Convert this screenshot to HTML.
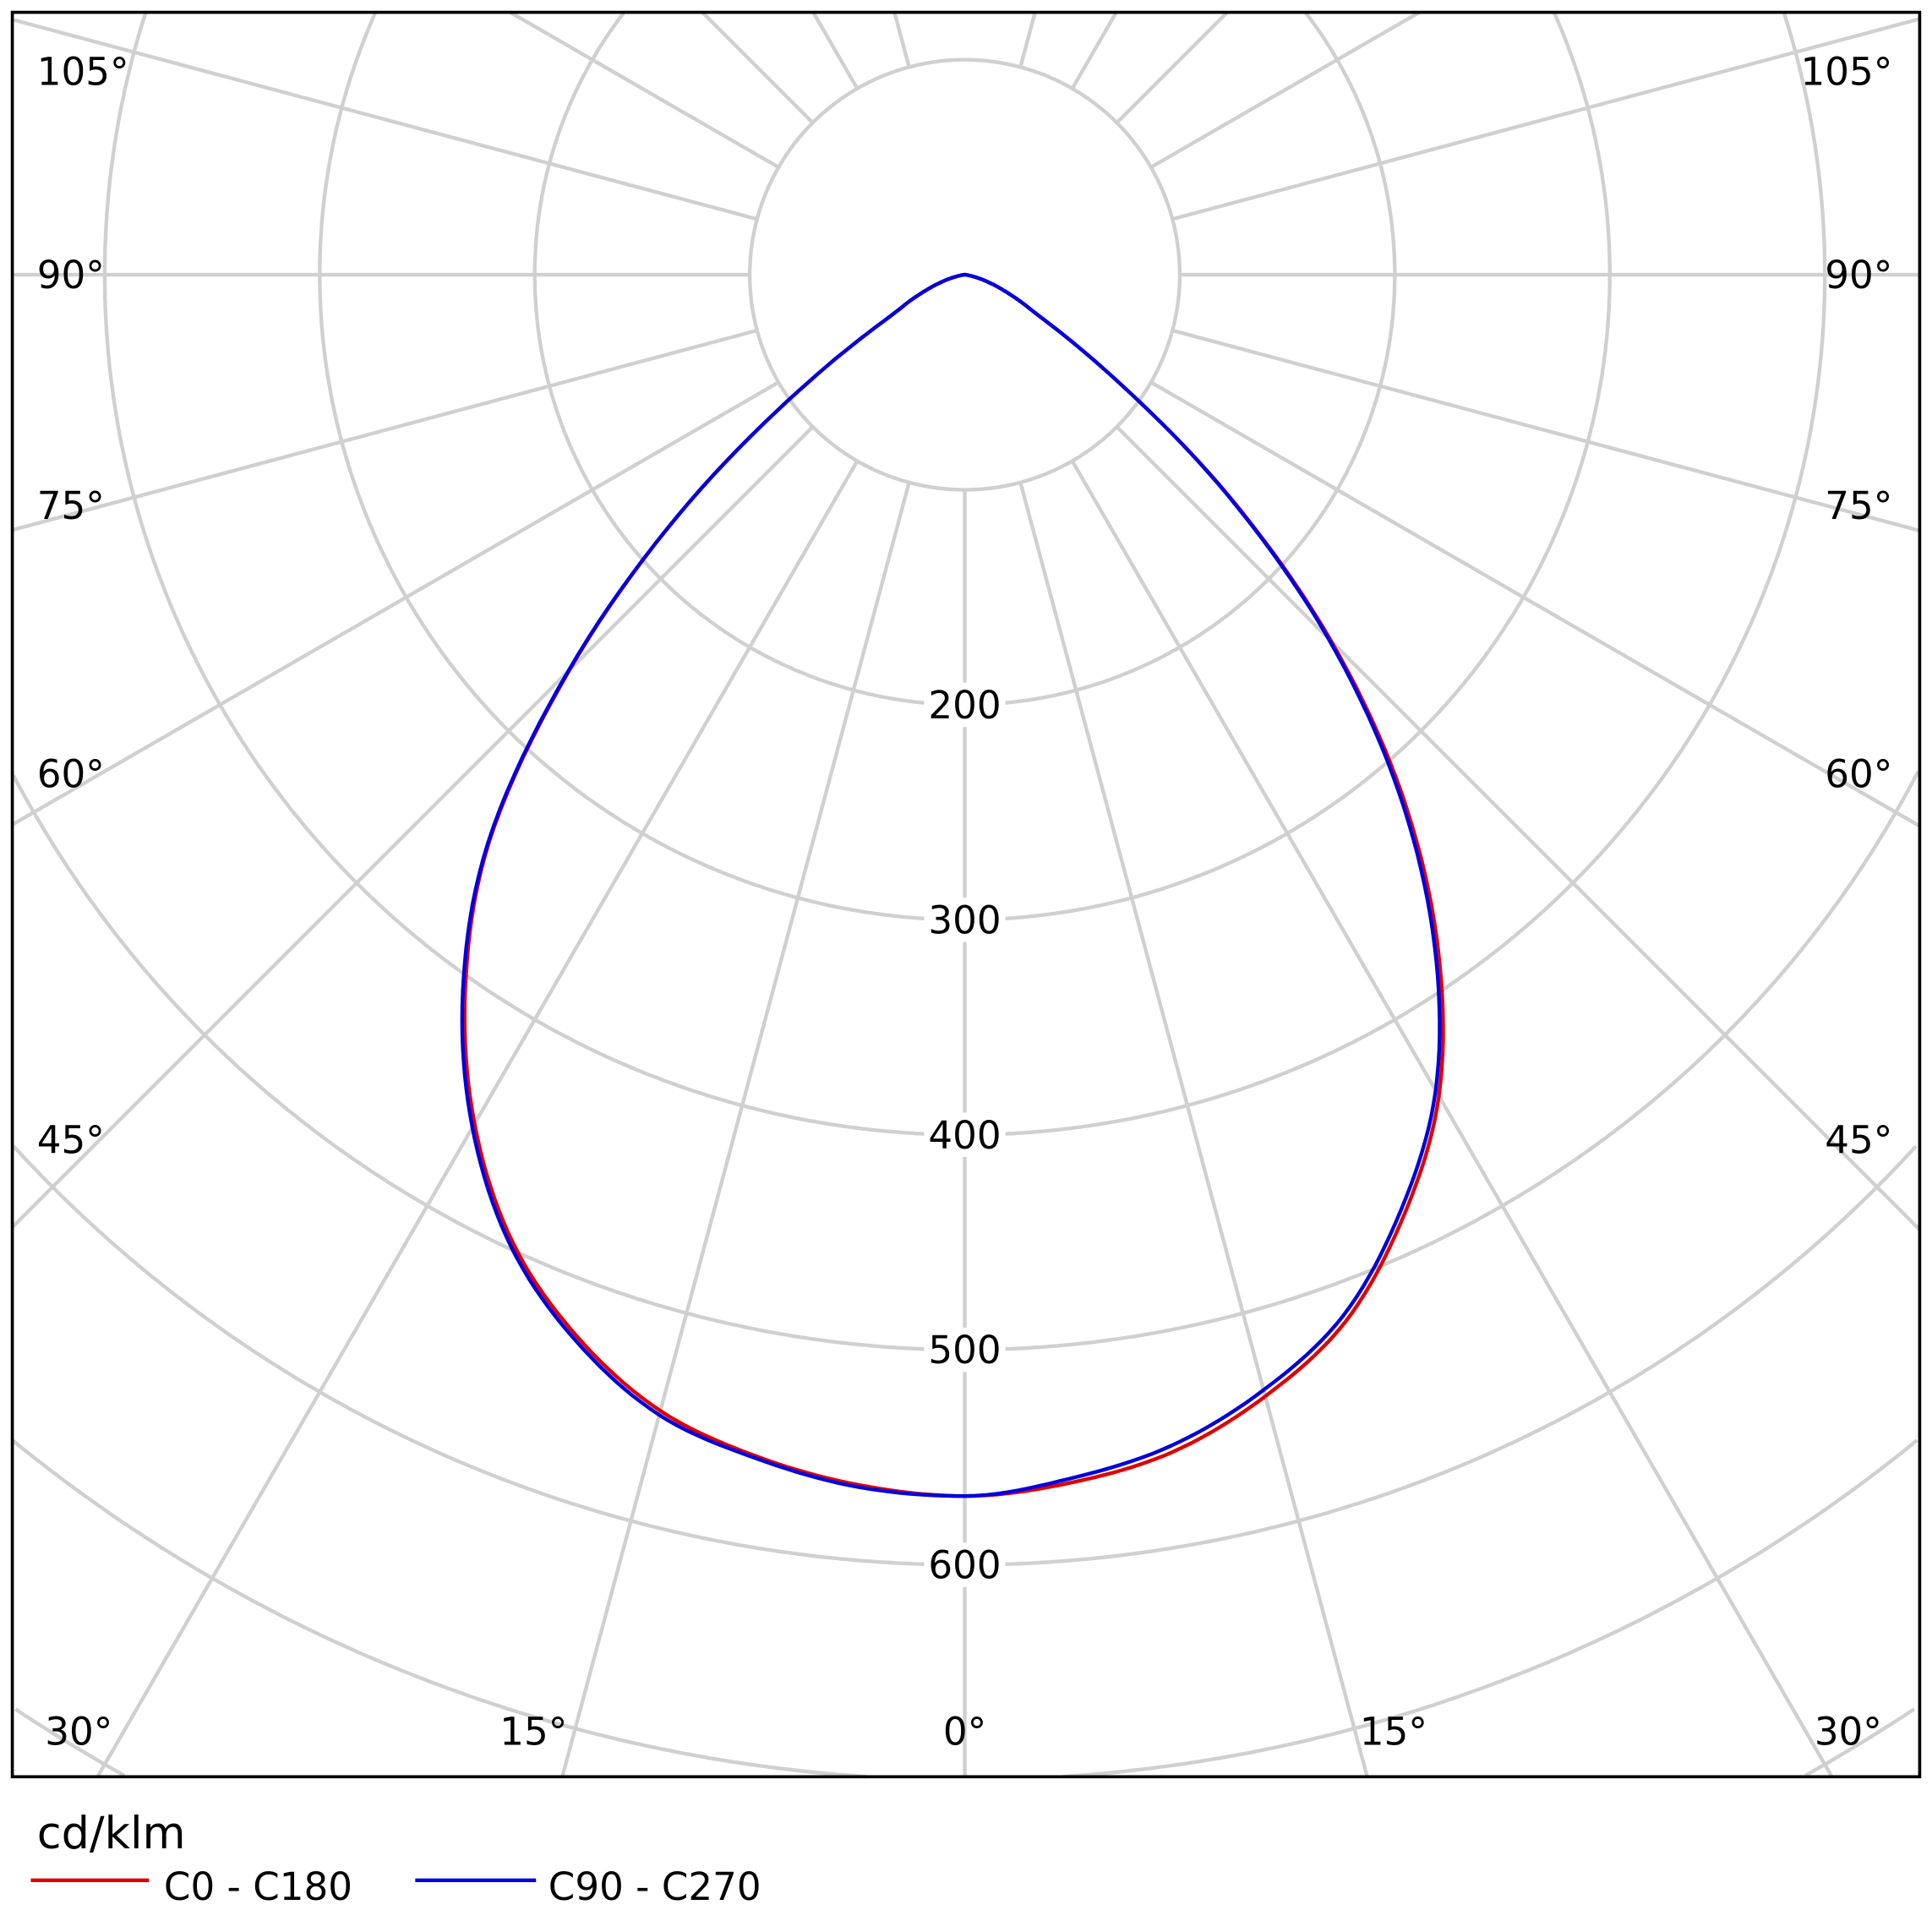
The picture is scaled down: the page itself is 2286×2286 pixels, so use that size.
<!DOCTYPE html>
<html><head><meta charset="utf-8"><style>
html,body{margin:0;padding:0;background:#fff;width:2286px;height:2286px;overflow:hidden;}
svg{display:block;}
text{font-family:"DejaVu Sans","Liberation Sans",sans-serif;fill:#000;}
</style></head><body>
<svg id="chart" width="2286" height="2286" viewBox="0 0 1568 1568" xmlns="http://www.w3.org/2000/svg">
<rect x="0" y="0" width="1568" height="1568" fill="#fff"/>
<g id="grid"></g>
<g id="curves"></g>
<g id="labels"></g>
<rect x="10" y="10" width="1548" height="1432" fill="none" stroke="#000" stroke-width="2.5"/>
<text x="30" y="1500" font-size="36">cd/klm</text>
<line x1="25" y1="1526" x2="121" y2="1526" stroke="#e00000" stroke-width="3"/>
<text x="133" y="1542" font-size="31">C0 - C180</text>
<line x1="337" y1="1526" x2="435" y2="1526" stroke="#0000e0" stroke-width="3"/>
<text x="445" y="1542" font-size="31">C90 - C270</text>
</svg>
<script>
const gammas = [0,5,10,15,20,25,30,35,40,45,50,55,60,65,70,75,80,85,90];
const valuesC0 = [568,564,556,540,518,483,441,384,317,241,161,88,45,27,16,8,3,1,0];
const valuesC90 = [568,562,553,537,515,480,438,381,314,239,160,88,45,27,16,8,3,1,0];
const valuesC180 = [568,565,558,547,526,497,456,405,344,260,174,95,45,27,16,8,3,1,0];
const valuesC270 = [568,566,559,549,528,499,458,407,345,261,174,95,45,27,16,8,3,1,0];
const ringValues = [100,200,300,400,500,600,700,800];
const ringLabels = ["200","300","400","500","600"];

const NS="http://www.w3.org/2000/svg";
const cx=783, cy=223, pxPer=1.745;
const FX0=10,FY0=10,FX1=1558,FY1=1442;
function rScale(v){return v*pxPer;}
function pt(g,v,side){const a=g*Math.PI/180;const r=rScale(v);return [cx+side*r*Math.sin(a), cy+r*Math.cos(a)];}
function mk(tag,attrs,parent){const e=document.createElementNS(NS,tag);for(const k in attrs)e.setAttribute(k,attrs[k]);parent.appendChild(e);return e;}
function inside(x,y){return x>=FX0&&x<=FX1&&y>=FY0&&y<=FY1;}

const grid=document.getElementById('grid');
ringValues.forEach(v=>{
  const r=rScale(v);let d='';let pen=false;
  for(let i=0;i<=1440;i++){
    const a=i/1440*2*Math.PI;const x=cx+r*Math.sin(a),y=cy+r*Math.cos(a);
    if(inside(x,y)){d+=(pen?' L':' M')+x.toFixed(1)+','+y.toFixed(1);pen=true;}else pen=false;
  }
  const c=mk('path',{d:d,fill:'none',stroke:'#d0d0d0','stroke-width':3},grid);
  
  
});
for(let a=0;a<360;a+=15){
  if(a===180) continue;
  const rad=a*Math.PI/180;const sx=Math.sin(rad),sy=Math.cos(rad);
  let t=1e9;
  if(sx>1e-9)t=Math.min(t,(FX1-cx)/sx);else if(sx<-1e-9)t=Math.min(t,(FX0-cx)/sx);
  if(sy>1e-9)t=Math.min(t,(FY1-cy)/sy);else if(sy<-1e-9)t=Math.min(t,(FY0-cy)/sy);
  const r0=rScale(100);
  if(t<=r0) continue;
  const l=mk('line',{x1:cx+r0*sx,y1:cy+r0*sy,x2:cx+t*sx,y2:cy+t*sy,stroke:'#d0d0d0','stroke-width':3},grid);
  
  
}

function sampleSide(vals){
  // monotone cubic (Fritsch-Carlson) interpolation for smooth rendering
  const n=gammas.length, d=[], m=new Array(n);
  for(let i=0;i<n-1;i++) d.push((vals[i+1]-vals[i])/(gammas[i+1]-gammas[i]));
  m[0]=0; m[n-1]=d[n-2];
  for(let i=1;i<n-1;i++) m[i]=(d[i-1]*d[i]<=0)?0:(d[i-1]+d[i])/2;
  for(let i=0;i<n-1;i++){
    if(d[i]===0){m[i]=0;m[i+1]=0;continue;}
    const a=m[i]/d[i], b=m[i+1]/d[i], s=a*a+b*b;
    if(s>9){const t=3/Math.sqrt(s);m[i]=t*a*d[i];m[i+1]=t*b*d[i];}
  }
  const out=[];
  for(let i=0;i<n-1;i++){
    const h=gammas[i+1]-gammas[i];
    for(let s=0;s<10;s++){
      const t=s/10,t2=t*t,t3=t2*t;
      const v=(2*t3-3*t2+1)*vals[i]+(t3-2*t2+t)*h*m[i]+(-2*t3+3*t2)*vals[i+1]+(t3-t2)*h*m[i+1];
      out.push([gammas[i]+h*t,Math.max(0,v)]);
    }
  }
  out.push([gammas[n-1],vals[n-1]]);
  return out;
}
const curves=document.getElementById('curves');
function drawSeries(leftVals,rightVals,color,name){
  const L=sampleSide(leftVals),R=sampleSide(rightVals);
  const pts=[];
  for(let i=L.length-1;i>=0;i--) pts.push(pt(L[i][0],L[i][1],-1));
  for(let i=1;i<R.length;i++) pts.push(pt(R[i][0],R[i][1],1));
  const p=mk('polyline',{points:pts.map(q=>q[0].toFixed(1)+','+q[1].toFixed(1)).join(' '),fill:'none',stroke:color,'stroke-width':3,'stroke-linejoin':'round'},curves);
  
  
}
drawSeries(valuesC180,valuesC0,'#e00000','curve-c0-c180');
drawSeries(valuesC270,valuesC90,'#0000e0','curve-c90-c270');

const labels=document.getElementById('labels');
ringLabels.forEach(s=>{
  const y=cy+rScale(+s);
  const bg=mk('rect',{x:cx-33,y:y-18,width:66,height:36,fill:'#fff'},labels);
  
  
  const t=mk('text',{x:cx,y:y+11,'font-size':31,'text-anchor':'middle'},labels);
  t.textContent=s;
  
  
});
const sideLabelY={105:58,90:223,75:410,60:628,45:925};
Object.keys(sideLabelY).forEach(k=>{
  const y=sideLabelY[k]+11;
  const l=mk('text',{x:30,y:y,'font-size':31},labels);l.textContent=k+'°';
  
  
  const r=mk('text',{x:1536,y:y,'font-size':31,'text-anchor':'end'},labels);r.textContent=k+'°';
  
  
});
[[64,'30'],[433,'15'],[783,'0'],[1131,'15'],[1500,'30']].forEach((d,i)=>{
  const t=mk('text',{x:d[0],y:1416,'font-size':31,'text-anchor':'middle'},labels);
  t.textContent=d[1]+'°';
  
  
});
</script>
</body></html>
